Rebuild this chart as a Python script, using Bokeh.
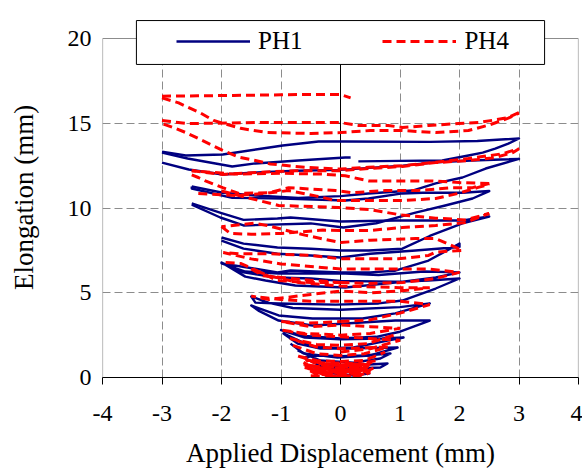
from bokeh.plotting import figure
from bokeh.models import FixedTicker, Legend, LegendItem, Range1d
from bokeh.embed import file_html
from bokeh.resources import INLINE

# ---------------- data ----------------
x_ticks = [-4, -3, -2, -1, 0, 1, 2, 3, 4]
x_tick_labels = ["-4", "-3", "-2", "-1", "0", "1", "2", "3", "4"]
y_ticks = [0, 5, 10, 15, 20]
y_tick_labels = ["0", "5", "10", "15", "20"]

# PH1 (solid navy) traced segments
ph1_s1_x = [-3.0, -2.6, -1.98, -1.31, -0.97, -0.37, 0.08, 1.5, 2.3, 2.7, 3.0, 2.82, 2.6, 2.39, 2.15, 1.71, 1.0, 0.3]
ph1_s1_y = [13.33, 13.1, 13.16, 13.51, 13.69, 13.92, 13.92, 13.9, 13.95, 14.04, 14.1, 13.8, 13.5, 13.27, 13.1, 12.8, 12.78, 12.75]
ph1_s2_x = [-3.0, -2.57, -1.82, -1.43, -0.71, 0.08, 0.17]
ph1_s2_y = [13.27, 12.92, 12.45, 12.63, 12.8, 12.98, 12.98]
ph1_s3_x = [-2.5, -1.98, -1.43, -0.71, 0.0, 0.47, 1.21, 1.6, 2.05, 2.44, 3.0, 2.7, 2.2, 1.6, 1.05, 0.0, -0.75, -1.4, -1.98, -2.55, -3.0]
ph1_s3_y = [11.27, 10.9, 10.74, 10.6, 10.7, 10.86, 11.03, 11.45, 11.8, 12.33, 12.9, 12.86, 12.8, 12.7, 12.5, 12.25, 12.2, 12.1, 11.98, 12.27, 12.68]
ph1_s4_x = [-2.0, -1.63, -1.06, -0.5, 0.0, 0.47, 1.04, 1.5, 2.05, 2.5, 2.05, 0.92, 0.0, -0.84, -1.06, -1.63, -2.0, -2.5]
ph1_s4_y = [8.26, 7.9, 7.67, 7.6, 7.49, 7.49, 7.6, 8.35, 9.09, 9.5, 9.26, 9.26, 9.2, 9.44, 9.38, 9.3, 9.7, 10.27]
ph1_s5_x = [-2.5, -2.02, -1.63, -0.5, 0.05, 0.6, 1.26, 1.76, 2.22, 2.5, 2.05, 1.38, 1.04, 0.47, 0.08, -0.97, -1.82, -2.5, -2.5]
ph1_s5_y = [10.2, 9.44, 8.97, 9.09, 8.85, 9.1, 9.73, 10.15, 10.56, 11.0, 10.9, 10.9, 10.86, 10.56, 10.44, 10.56, 10.6, 11.15, 11.27]
ph1_s6_x = [0.0, 0.6, 1.0, 1.5, 0.92, 0.08, -0.47, -1.04, -1.38, -1.5, -1.04, -0.47, 0.37, 0.92, 1.5, 1.0, 0.0, -0.8, -1.2, -1.5,
            -1.43, -1.04, -0.08, 0.64, 1.04, 1.6, 2.0, 1.48, 0.92, 0.0, -0.5, -1.06, -1.63, -2.0, -1.6, -1.26, -0.76, 0.08, 0.92, 1.6, 2.0,
            1.4, 0.64, 0.08, -1.04, -1.6, -2.0, -1.46, -1.06, -0.84, 0.0, 0.5, 0.92, 1.48, 2.0, 2.0, 1.26, 0.5, 0.0, -0.5, -1.06, -1.63, -2.0]
ph1_s6_y = [2.3, 2.4, 2.7, 3.36, 3.36, 3.19, 3.07, 3.36, 3.95, 4.25, 3.66, 3.48, 3.48, 3.78, 4.37, 4.15, 4.0, 4.1, 4.4, 4.78,
            4.42, 4.37, 4.3, 4.37, 4.54, 5.25, 5.84, 5.72, 5.65, 5.7, 5.84, 5.9, 6.2, 6.78, 5.95, 5.72, 5.43, 5.31, 5.6, 5.9, 6.2,
            6.25, 6.05, 6.14, 6.14, 6.25, 6.73, 6.43, 6.2, 6.31, 6.2, 6.2, 6.3, 6.9, 7.9, 7.7, 7.49, 7.3, 7.08, 7.2, 7.3, 7.6, 8.08]
ph1_s7_x = [-0.84, -0.62, -0.05, 0.5, 0.96, 0.6, 0.0, -0.5, -0.96, -0.72, -0.34, 0.22, 0.79, 1.06, 0.7, 0.0, -0.6, -1.0, -0.6, 0.0]
ph1_s7_y = [2.0, 1.42, 1.18, 1.3, 1.77, 1.75, 1.7, 1.85, 2.6, 2.0, 1.71, 1.77, 2.18, 2.36, 2.3, 2.25, 2.35, 2.8, 2.45, 2.3]
ph1_s8_x = [-0.72, -0.34, 0.22, 0.67, 0.84, 0.4, 0.0, -0.4, -0.62, -0.29, 0.22, 0.67, 0.79, 0.4, 0.0, -0.45, -0.29, 0.22, 0.5]
ph1_s8_y = [1.6, 1.0, 0.88, 1.12, 1.42, 1.3, 1.25, 1.3, 1.18, 0.59, 0.53, 0.59, 0.83, 0.75, 0.7, 0.59, 0.3, 0.12, 0.24]

# PH4 (dashed red) traced segments
ph4_s1_x = [-3.0, -2.4, -1.8, -1.0, -0.5, 0.0, 0.17]
ph4_s1_y = [16.6, 16.62, 16.64, 16.68, 16.7, 16.7, 16.5]
ph4_s2_x = [-3.0, -2.72, -2.35, -2.13, -1.68, -1.23, -0.5, 0.0, 0.5, 1.04, 1.6, 2.15, 2.5, 2.82, 3.0]
ph4_s2_y = [16.5, 16.2, 15.6, 15.16, 14.7, 14.45, 14.4, 14.45, 14.57, 14.57, 14.45, 14.57, 14.9, 15.3, 15.6]
ph4_s3_x = [-3.0, -2.55, -1.43, 0.0, 0.3, 0.8, 1.04, 1.48, 1.98, 2.32, 2.6, 2.82, 3.0]
ph4_s3_y = [15.16, 14.98, 15.04, 15.04, 14.87, 14.87, 14.75, 14.87, 14.98, 15.04, 15.2, 15.34, 15.63]
ph4_s4_x = [-2.5, -1.98, -1.4, -0.75, 0.0, 0.47, 1.04, 1.6, 2.15, 2.6, 2.9, 3.0, 2.72, 2.15, 1.6, 1.04, 0.47, 0.0,
            -0.6, -1.18, -1.43, -1.71, -1.98, -2.39, -2.6, -2.77, -3.0]
ph4_s4_y = [12.2, 11.98, 12.1, 12.2, 12.2, 12.33, 12.45, 12.68, 12.8, 12.98, 13.27, 13.5, 13.2, 12.92, 12.7, 12.5, 12.4, 12.3,
            12.4, 12.6, 12.8, 13.0, 13.4, 14.1, 14.45, 14.7, 14.98]
ph4_s5_x = [-2.5, -2.39, -2.27, -1.98, -1.71, -1.2, -0.87, -0.08, 0.2, 0.75, 1.3, 1.88, 2.22, 2.5]
ph4_s5_y = [11.95, 11.8, 11.6, 11.2, 10.86, 10.9, 11.2, 11.03, 10.9, 11.03, 11.03, 11.2, 11.2, 11.45]
ph4_s6_x = [2.5, 2.0, 1.55, 1.04, 0.47, 0.08, -0.3, -1.0, -1.8, -2.5]
ph4_s6_y = [11.45, 11.5, 11.6, 11.6, 11.6, 11.9, 12.0, 12.05, 12.0, 12.2]
ph4_s7_x = [-2.39, -1.76, -1.26, -0.87, -0.4, -0.08, 0.47, 1.04, 1.6, 1.98, 2.3, 2.5]
ph4_s7_y = [10.86, 10.74, 10.86, 11.03, 10.7, 10.44, 10.44, 10.44, 10.56, 10.86, 11.2, 11.4]
ph4_s8_x = [-2.0, -1.55, -1.04, -0.03, 0.5, 1.0, 1.6, 2.1, 2.5]
ph4_s8_y = [11.0, 10.6, 10.15, 10.03, 9.9, 9.6, 9.4, 9.3, 9.68]
ph4_s9_x = [-2.0, -1.85, -1.5, -1.0, -0.3, 0.0, 0.47, 1.04, 1.6, 2.1, 2.5]
ph4_s9_y = [8.9, 8.5, 8.45, 8.5, 8.7, 8.67, 8.67, 8.85, 8.97, 9.14, 9.68]
ph4_s10_x = [0.0, 0.47, 1.04, 1.6, 2.0, 1.5, 1.0, 0.0, -1.0, -1.5, -1.97, -1.7, -1.2, -0.5, 0.0, 0.97, 1.48, 1.6, 2.05,
             1.6, 1.26, 0.5, 0.0, -0.6, -1.23, -1.46, -2.0]
ph4_s10_y = [5.6, 5.55, 5.6, 5.84, 6.2, 6.4, 6.4, 6.4, 6.7, 7.0, 7.37, 7.3, 7.3, 7.2, 7.0, 7.0, 7.2, 7.4, 7.5,
             8.2, 8.2, 8.1, 7.96, 8.4, 8.97, 9.1, 8.9]
ph4_s11_x = [-1.93, -1.68, -1.34, -1.06, -0.5, 0.0]
ph4_s11_y = [6.78, 6.73, 6.2, 5.72, 5.6, 5.6]
ph4_s12_x = [0.0, 0.5, 1.0, 1.5, 1.0, 0.0, -0.5, -1.0, -1.5, -1.2, -0.5, 0.0, 0.5, 1.0, 1.5, 1.0, 0.0, -0.7, -1.2, -1.5, -1.3, -0.7, 0.0]
ph4_s12_y = [3.3, 3.4, 3.8, 4.3, 4.5, 4.5, 4.5, 4.6, 4.8, 4.6, 4.9, 5.1, 5.0, 5.1, 5.3, 5.3, 5.4, 5.6, 6.0, 6.4, 6.0, 5.8, 5.6]
ph4_s13_x = [0.0, 0.5, 1.0, 0.5, 0.0, -0.5, -1.0, -0.6, 0.0, 0.5, 1.0, 0.5, 0.0, -0.5, -1.0, -0.6, 0.0]
ph4_s13_y = [1.5, 1.7, 2.2, 2.3, 2.4, 2.5, 2.8, 2.6, 2.5, 2.6, 2.9, 3.0, 3.1, 3.0, 3.3, 3.2, 3.3]
ph4_s14_x = [-0.62, -0.3, 0.0, 0.3, 0.5, 0.3, 0.0, -0.3, -0.62, -0.3, 0.0, 0.3, 0.5, 0.3, 0.0, -0.3, -0.62, -0.3, 0.0,
             0.3, 0.6, 0.3, 0.0, -0.3, -0.75, -0.4, 0.0, 0.4, 0.75]
ph4_s14_y = [0.9, 0.2, 0.0, 0.1, 0.4, 0.3, 0.25, 0.3, 0.6, 0.35, 0.3, 0.4, 0.7, 0.5, 0.45, 0.5, 0.8, 0.55, 0.55,
             0.6, 1.0, 0.8, 0.75, 0.8, 1.3, 1.0, 0.95, 1.0, 1.5]
ph4_s15_x = [-0.5, -0.2, 0.1, 0.4, 0.5, 0.2, -0.1, -0.4, -0.55, -0.2, 0.1, 0.4, 0.55, 0.2, -0.2, -0.6, -0.25, 0.15, 0.45,
             0.1, -0.3, -0.58, -0.3, 0.0, 0.35, 0.52]
ph4_s15_y = [0.1, 0.05, 0.05, 0.15, 0.3, 0.2, 0.15, 0.2, 0.45, 0.25, 0.2, 0.3, 0.55, 0.42, 0.38, 0.7, 0.62, 0.62, 0.75,
             0.85, 0.85, 1.05, 0.18, 0.1, 0.3, 0.9]
ph4_s16_x = [-0.8, -0.4, 0.0, 0.4, 0.8, 0.4, 0.0, -0.4, -0.85, -0.4, 0.0, 0.45, 0.9]
ph4_s16_y = [1.9, 1.4, 1.3, 1.4, 1.8, 1.75, 1.7, 1.8, 2.3, 1.95, 1.9, 2.0, 2.5]
ph4_s17_x = [-0.45, -0.15, 0.15, 0.42, 0.2, -0.1, -0.42, -0.12, 0.18, 0.46, 0.15, -0.2, -0.5, -0.2, 0.1, 0.4]
ph4_s17_y = [0.35, 0.08, 0.1, 0.5, 0.35, 0.33, 0.65, 0.4, 0.45, 0.65, 0.6, 0.6, 0.95, 0.72, 0.7, 0.8]

ph1_xs = [ph1_s1_x, ph1_s2_x, ph1_s3_x, ph1_s4_x, ph1_s5_x, ph1_s6_x, ph1_s7_x, ph1_s8_x]
ph1_ys = [ph1_s1_y, ph1_s2_y, ph1_s3_y, ph1_s4_y, ph1_s5_y, ph1_s6_y, ph1_s7_y, ph1_s8_y]
ph4_xs = [ph4_s1_x, ph4_s2_x, ph4_s3_x, ph4_s4_x, ph4_s5_x, ph4_s6_x, ph4_s7_x, ph4_s8_x, ph4_s9_x, ph4_s10_x,
          ph4_s11_x, ph4_s12_x, ph4_s13_x, ph4_s14_x, ph4_s15_x, ph4_s16_x, ph4_s17_x]
ph4_ys = [ph4_s1_y, ph4_s2_y, ph4_s3_y, ph4_s4_y, ph4_s5_y, ph4_s6_y, ph4_s7_y, ph4_s8_y, ph4_s9_y, ph4_s10_y,
          ph4_s11_y, ph4_s12_y, ph4_s13_y, ph4_s14_y, ph4_s15_y, ph4_s16_y, ph4_s17_y]

# ---------------- figure ----------------
X_MIN, X_MAX, Y_MIN, Y_MAX = -4, 4, 0, 20
FONT = "Liberation Serif"
GRID = "#8c8c8c"
NAVY = "#000080"
RED = "#ff0000"

p = figure(width=582, height=471, output_backend="svg", toolbar_location=None,
           x_range=Range1d(X_MIN, X_MAX), y_range=Range1d(Y_MIN, 21.24),
           min_border_left=102, min_border_right=4, min_border_top=17, min_border_bottom=94,
           background_fill_color="white", border_fill_color="white")
p.outline_line_color = None

# x axis
p.xaxis.ticker = FixedTicker(ticks=x_ticks)
p.xaxis.major_label_overrides = {t: s for t, s in zip(x_ticks, x_tick_labels)}
p.xaxis.axis_line_color = "black"
p.xaxis.major_tick_line_color = "black"
p.xaxis.major_tick_out = 7
p.xaxis.major_tick_in = 0
p.xaxis.minor_tick_line_color = None
p.xaxis.major_label_text_font = FONT
p.xaxis.major_label_text_font_size = "24px"
p.xaxis.major_label_text_color = "black"
p.xaxis.major_label_standoff = 21
p.xaxis.axis_label = "Applied Displacement (mm)"
p.xaxis.axis_label_text_font = FONT
p.xaxis.axis_label_text_font_size = "27px"
p.xaxis.axis_label_text_font_style = "normal"
p.xaxis.axis_label_text_color = "black"
p.xaxis.axis_label_standoff = 14

# y axis (labels at the left, axis line itself at x = 0)
p.yaxis.ticker = FixedTicker(ticks=y_ticks)
p.yaxis.major_label_overrides = {t: s for t, s in zip(y_ticks, y_tick_labels)}
p.yaxis.axis_line_color = None
p.yaxis.major_tick_line_color = None
p.yaxis.minor_tick_line_color = None
p.yaxis.major_label_text_font = FONT
p.yaxis.major_label_text_font_size = "24px"
p.yaxis.major_label_text_color = "black"
p.yaxis.major_label_standoff = 5
p.yaxis.axis_label = "Elongation (mm)"
p.yaxis.axis_label_text_font = FONT
p.yaxis.axis_label_text_font_size = "27px"
p.yaxis.axis_label_text_font_style = "normal"
p.yaxis.axis_label_text_color = "black"
p.yaxis.axis_label_standoff = 26

# grids
p.xgrid.ticker = FixedTicker(ticks=[t for t in x_ticks if t not in (X_MIN, 0, X_MAX)])
p.ygrid.ticker = FixedTicker(ticks=[t for t in y_ticks if t not in (Y_MIN, Y_MAX)])
for g in (p.xgrid, p.ygrid):
    g.grid_line_color = GRID
    g.grid_line_dash = "8 4"
    g.grid_line_width = 1

# plot-area border (grey) and value axis at x = 0
p.line([X_MIN, X_MIN, X_MAX, X_MAX], [Y_MIN, Y_MAX, Y_MAX, Y_MIN], line_color=GRID, line_width=1.2)
p.line([0, 0], [Y_MIN, Y_MAX], line_color="black", line_width=1)
p.segment(x0=[-0.11] * len(y_ticks), y0=y_ticks, x1=[0] * len(y_ticks), y1=y_ticks, line_color="black", line_width=1)

# data
r1 = p.multi_line(ph1_xs, ph1_ys, line_color=NAVY, line_width=2.4, line_join="round")
r4 = p.multi_line(ph4_xs, ph4_ys, line_color=RED, line_width=3, line_dash="9 5")

# legend box (sits over the top edge of the plot area)
p.quad(left=[-3.43], right=[3.43], bottom=[18.47], top=[21.06], fill_color="white", line_color="black", line_width=1)

legend = Legend(items=[LegendItem(label="PH1", renderers=[r1]), LegendItem(label="PH4", renderers=[r4])],
                orientation="horizontal", location=(74, 322), padding=0, margin=0, spacing=80,
                glyph_width=74, glyph_height=26, label_standoff=8, label_height=26,
                label_text_font=FONT, label_text_font_size="25px", label_text_color="black",
                border_line_alpha=0, background_fill_alpha=0)
p.add_layout(legend, "center")

open("out.html", "w").write(file_html(p, INLINE))
